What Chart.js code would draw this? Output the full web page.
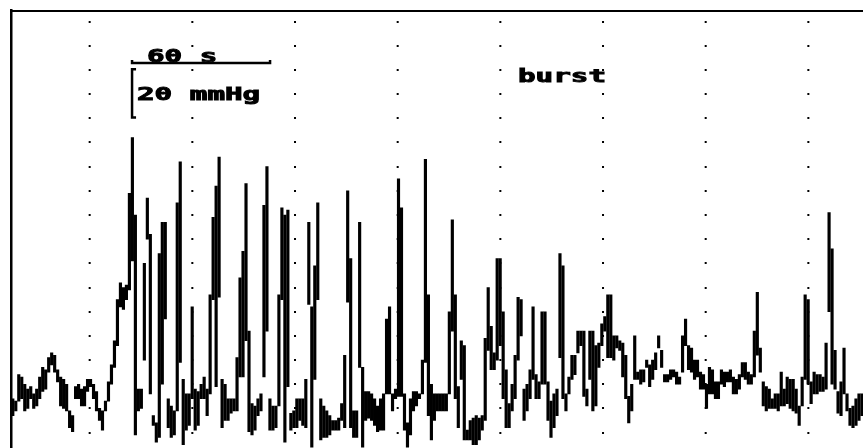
<!DOCTYPE html>
<html>
<head>
<meta charset="utf-8">
<script src="https://cdn.jsdelivr.net/npm/chart.js@4.4.0/dist/chart.umd.min.js"></script>
<style>
  html, body { margin: 0; padding: 0; background: #fff; }
  canvas { display: block; }
</style>
</head>
<body>
<canvas id="trace" width="863" height="448"></canvas>
<script>
// pressure trace, min and max in each 1.3 s bin (mmHg, relative to the lowest grid row)
const binSeconds = 1.3;

const traceLow = [
    7, 9, 13, 14, 9, 10, 14, 10, 11, 14, 17, 18, 25, 28, 25, 21, 11, 10, 9, 2,
    0, 14, 14, 11, 11, 17, 19, 14, 9, 5, 1, 9, 13, 20, 27, 36, 52, 51, 55, 59,
    71, -1, 9, 10, 30, 80, 16, 3, -4, -2, 20, 47, 2, -2, -1, 9, 29, -5, 1, 3,
    14, 1, 3, 14, 14, 7, 16, 55, 19, 56, 2, 5, 5, 8, 9, 9, 23, 23, 38, 0,
    -1, 1, 7, 9, 23, 42, 1, 1, 2, 11, 55, -4, 19, 1, 2, 2, 5, 3, 2, 53,
    -6, 22, 55, -3, -2, -2, -1, 1, 1, 1, 5, 2, 54, 2, -2, -2, 27, -6, 5, 6,
    5, 3, 0, 1, 1, 16, 16, 9, 14, 15, 15, 1, -6, -1, 9, 11, 14, 16, 29, 7,
    -3, 5, 9, 9, 9, 9, 16, 42, 14, 2, 22, -3, -3, -3, -5, -5, -3, 1, 5, 34,
    26, 26, 30, 36, 14, 2, 2, 9, 14, 30, 40, 5, 9, 14, 22, 14, 14, 20, 20, 5,
    -2, 2, 7, 31, 14, 9, 16, 22, 24, 33, 36, 15, 11, 22, 9, 11, 27, 36, 42, 31,
    31, 30, 35, 34, 23, 14, 4, 9, 22, 22, 20, 21, 27, 19, 22, 26, 35, 27, 21, 21,
    22, 23, 20, 20, 25, 36, 26, 25, 22, 23, 18, 18, 10, 16, 16, 14, 14, 20, 19, 21,
    21, 16, 16, 18, 23, 22, 20, 20, 23, 32, 25, 11, 9, 10, 10, 10, 9, 11, 11, 12,
    10, 9, 8, 3, 11, 22, 20, 12, 16, 16, 17, 17, 18, 50, 20, 18, 8, 7, 16, 9,
    3, 2, 3, 5, 7
];

const traceHigh = [
    14, 13, 24, 23, 20, 18, 19, 16, 18, 23, 27, 26, 31, 33, 32, 26, 23, 22, 20, 9,
    7, 19, 20, 18, 19, 22, 22, 20, 17, 10, 9, 13, 21, 28, 38, 55, 62, 60, 61, 99,
    122, 90, 18, 18, 70, 97, 82, 7, 4, 74, 87, 87, 14, 11, 9, 95, 112, 22, 16, 16,
    52, 18, 17, 20, 23, 18, 57, 89, 102, 114, 22, 20, 14, 14, 14, 31, 64, 75, 103, 42,
    12, 11, 14, 16, 94, 110, 14, 11, 11, 57, 93, 90, 92, 8, 9, 14, 14, 14, 22, 87,
    52, 69, 95, 14, 11, 9, 7, 5, 5, 6, 12, 32, 100, 72, 9, 9, 87, 27, 17, 17,
    16, 14, 11, 14, 16, 47, 52, 16, 18, 105, 93, 16, 4, 14, 17, 17, 16, 30, 113, 57,
    20, 16, 16, 16, 16, 16, 50, 88, 57, 19, 38, 36, 1, 5, 6, 7, 6, 7, 39, 60,
    44, 33, 72, 72, 50, 26, 12, 20, 32, 56, 55, 18, 20, 26, 52, 24, 21, 50, 50, 21,
    13, 16, 18, 74, 69, 16, 23, 32, 32, 42, 42, 42, 18, 42, 42, 36, 37, 45, 48, 57,
    57, 40, 40, 38, 37, 32, 15, 20, 40, 25, 26, 26, 30, 28, 30, 33, 40, 34, 24, 24,
    26, 26, 25, 23, 40, 47, 36, 35, 30, 30, 25, 24, 20, 27, 26, 21, 21, 26, 25, 25,
    26, 23, 22, 24, 29, 29, 25, 24, 42, 58, 35, 21, 19, 18, 14, 16, 16, 25, 18, 23,
    22, 22, 18, 11, 23, 57, 55, 21, 25, 24, 24, 23, 37, 91, 76, 34, 17, 21, 35, 16,
    10, 11, 14, 16, 16
];

const timeRange = [0, 370.3];
const pressureRange = [-6.37, 174.6];
const gridStepMmHg = 10;
const scaleBarSeconds = 60;
const scaleBarMmHg = 20;

const labels = [
    { text: '60 s', t: 59, p: 153.1 },
    { text: '20 mmHg', t: 54.65, p: 137.4 },
    { text: 'burst', t: 220.3, p: 145.1 }
];

const annotations = {
    id: 'annotations',
    afterDatasetsDraw(chart) {
        const { ctx, scales: { x, y } } = chart;
        ctx.save();
        ctx.strokeStyle = '#000';
        ctx.lineWidth = 2.5;

        // 60 s bar
        const x0 = x.getPixelForValue(52.5);
        const x1 = x.getPixelForValue(52.5 + scaleBarSeconds);
        const yb = y.getPixelForValue(152.9);
        ctx.beginPath();
        ctx.moveTo(x0, yb - 3);
        ctx.lineTo(x0, yb);
        ctx.lineTo(x1, yb);
        ctx.lineTo(x1, yb - 3);
        ctx.stroke();

        // 20 mmHg bracket
        const yLo = y.getPixelForValue(130.3);
        const yHi = y.getPixelForValue(130.3 + scaleBarMmHg);
        ctx.beginPath();
        ctx.moveTo(x0 + 4, yHi);
        ctx.lineTo(x0, yHi);
        ctx.lineTo(x0, yLo);
        ctx.lineTo(x0 + 4, yLo);
        ctx.stroke();

        ctx.fillStyle = '#000';
        ctx.font = 'bold 17px "DejaVu Sans Mono"';
        ctx.textBaseline = 'alphabetic';
        ctx.lineWidth = 0.9;
        labels.forEach(l => {
            ctx.save();
            ctx.translate(x.getPixelForValue(l.t), y.getPixelForValue(l.p));
            ctx.scale(1.72, 1);
            ctx.fillText(l.text, 0, 0);
            ctx.strokeText(l.text, 0, 0);
            ctx.restore();
        });
        ctx.restore();
    }
};

new Chart(document.getElementById('trace'), {
    type: 'bar',
    data: {
        datasets: [{
            data: traceLow.map((lo, i) => ({ x: (i + 0.5) * binSeconds, y: [lo, traceHigh[i]] })),
            backgroundColor: '#000',
            borderWidth: 0,
            barThickness: 2.5
        }]
    },
    options: {
        responsive: false,
        animation: false,
        devicePixelRatio: 1,
        layout: { padding: { left: 11.3, top: 10.5, right: 0, bottom: 0 } },
        plugins: {
            legend: { display: false },
            tooltip: { enabled: false }
        },
        scales: {
            x: {
                type: 'linear',
                position: 'top',
                min: timeRange[0],
                max: timeRange[1],
                offset: false,
                ticks: { display: false },
                grid: { display: false, drawTicks: false },
                border: { display: true, color: '#000', width: 2 }
            },
            y: {
                type: 'linear',
                min: pressureRange[0],
                max: pressureRange[1],
                ticks: { display: false, stepSize: gridStepMmHg, includeBounds: false },
                grid: { color: '#000', lineWidth: 2, drawTicks: false },
                border: { display: true, color: '#000', width: 2.5, dash: [2, 100.67], dashOffset: 26.5 }
            }
        }
    },
    plugins: [annotations]
});
</script>
</body>
</html>
